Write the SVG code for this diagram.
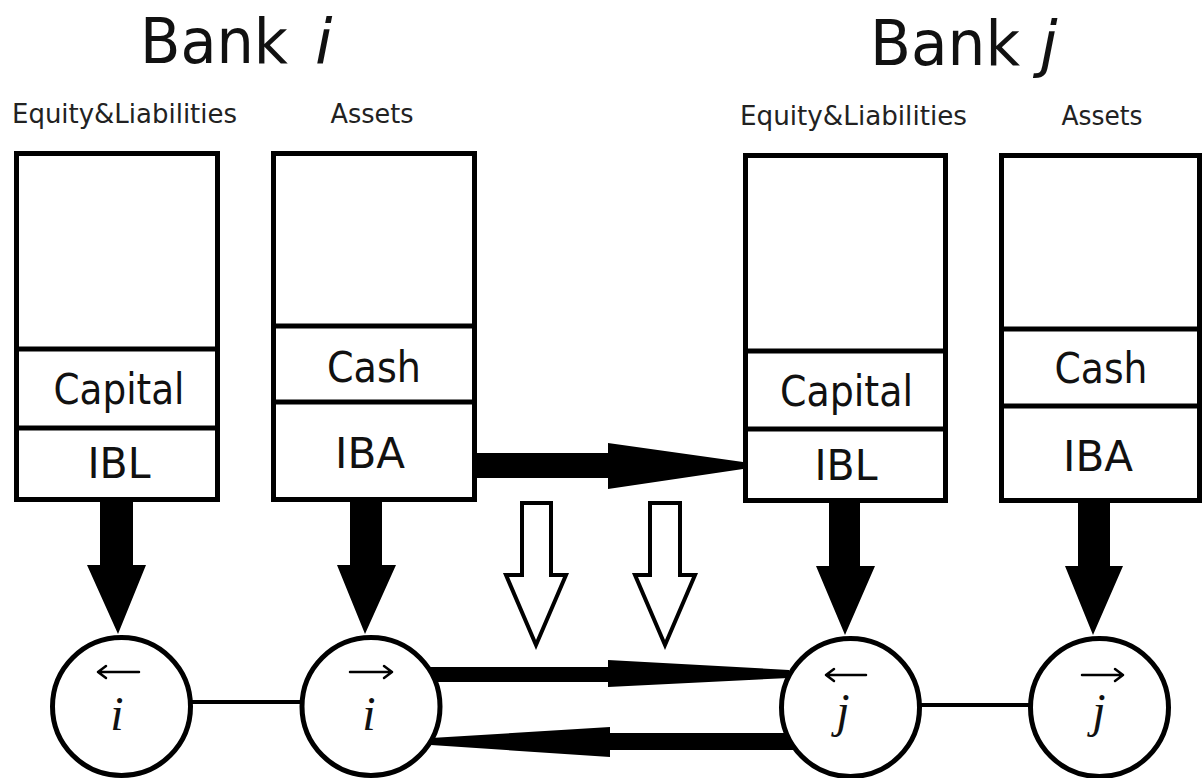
<svg xmlns="http://www.w3.org/2000/svg" width="1204" height="778" viewBox="0 0 1204 778">
<style>
  .box{fill:#fff;stroke:#000;stroke-width:5}
  .div{stroke:#000;stroke-width:5}
  .title{font-family:"DejaVu Sans",sans-serif;font-size:63px;fill:#111}
  .head{font-family:"DejaVu Sans",sans-serif;font-size:26px;fill:#222;text-anchor:middle}
  .cell{font-family:"DejaVu Sans",sans-serif;font-size:42px;fill:#111;text-anchor:middle}
  .node{fill:#fff;stroke:#000;stroke-width:5}
  .var{font-family:"Liberation Serif",serif;font-style:italic;font-size:48px;fill:#111;text-anchor:middle}
  .acc{fill:none;stroke:#000;stroke-width:2.5;stroke-linecap:round;stroke-linejoin:round}
  .solid{fill:#000;stroke:none}
  .open{fill:#fff;stroke:#000;stroke-width:4;stroke-linejoin:miter}
  .link{stroke:#000;stroke-width:4}
</style>
<rect width="1204" height="778" fill="#fff"/>

<g id="titles">
  <text class="title" x="140" y="63" textLength="148" lengthAdjust="spacingAndGlyphs">Bank</text>
  <text class="title" x="315" y="63" font-style="italic">i</text>
  <text class="title" x="870" y="65" textLength="150" lengthAdjust="spacingAndGlyphs">Bank</text>
  <text class="title" x="1040" y="65" font-style="italic">j</text>
</g>

<g id="headings">
  <text class="head" x="124.5" y="123" textLength="225" lengthAdjust="spacingAndGlyphs">Equity&amp;Liabilities</text>
  <text class="head" x="372" y="123" textLength="83" lengthAdjust="spacingAndGlyphs">Assets</text>
  <text class="head" x="853.5" y="125" textLength="227" lengthAdjust="spacingAndGlyphs">Equity&amp;Liabilities</text>
  <text class="head" x="1102" y="125" textLength="81" lengthAdjust="spacingAndGlyphs">Assets</text>
</g>

<g id="connectors">
  <!-- balance sheet to nodes -->
  <polygon class="solid" points="100,500 133,500 133,565 146,565 118,634 87,565 100,565"/>
  <polygon class="solid" points="350,500 382,500 382,565 396,565 365,634 337,565 350,565"/>
  <polygon class="solid" points="829,501 860,501 860,566 875,566 845,635 816,566 829,566"/>
  <polygon class="solid" points="1078,501 1110,501 1110,566 1123,566 1093,635 1065,566 1078,566"/>
  <!-- IBA of i to IBL of j -->
  <polygon class="solid" points="475,453 608,453 608,443 743,462 743,469 608,489 608,478 475,478"/>
  <!-- open arrows -->
  <path class="open" d="M522,503 H551 V575 H566 L536,645 L506,575 H522 Z"/>
  <path class="open" d="M650,503 H680 V575 H695 L665,645 L635,575 H650 Z"/>
  <!-- node links -->
  <line class="link" x1="190" y1="702" x2="302" y2="702"/>
  <line class="link" x1="919" y1="705" x2="1031" y2="705"/>
  <polygon class="solid" points="425,667 608,667 608,660 789,670 789,678 608,687 608,682 425,682"/>
  <polygon class="solid" points="795,733 610,733 610,727 431,738 431,745 610,757 610,750 795,750"/>
</g>

<g id="box-i-liab">
  <rect class="box" x="16.5" y="153.5" width="201" height="346"/>
  <line class="div" x1="14" y1="349" x2="220" y2="349"/>
  <line class="div" x1="14" y1="428" x2="220" y2="428"/>
  <text class="cell" x="119" y="404" textLength="131" lengthAdjust="spacingAndGlyphs">Capital</text>
  <text class="cell" x="119" y="478" textLength="63" lengthAdjust="spacingAndGlyphs">IBL</text>
</g>

<g id="box-i-assets">
  <rect class="box" x="273.5" y="153.5" width="201" height="346"/>
  <line class="div" x1="271" y1="326" x2="477" y2="326"/>
  <line class="div" x1="271" y1="402" x2="477" y2="402"/>
  <text class="cell" x="374" y="382" textLength="94" lengthAdjust="spacingAndGlyphs">Cash</text>
  <text class="cell" x="370" y="468" textLength="70" lengthAdjust="spacingAndGlyphs">IBA</text>
</g>

<g id="box-j-liab">
  <rect class="box" x="745.5" y="155.5" width="200" height="345"/>
  <line class="div" x1="743" y1="351" x2="948" y2="351"/>
  <line class="div" x1="743" y1="429" x2="948" y2="429"/>
  <text class="cell" x="846.5" y="406" textLength="133" lengthAdjust="spacingAndGlyphs">Capital</text>
  <text class="cell" x="846" y="480" textLength="63" lengthAdjust="spacingAndGlyphs">IBL</text>
</g>

<g id="box-j-assets">
  <rect class="box" x="1001.5" y="155.5" width="198" height="345"/>
  <line class="div" x1="999" y1="329" x2="1202" y2="329"/>
  <line class="div" x1="999" y1="406" x2="1202" y2="406"/>
  <text class="cell" x="1101" y="383" textLength="93" lengthAdjust="spacingAndGlyphs">Cash</text>
  <text class="cell" x="1098" y="471" textLength="70" lengthAdjust="spacingAndGlyphs">IBA</text>
</g>

<g id="node-i-in">
  <circle class="node" cx="121.5" cy="706.5" r="69"/>
  <path class="acc" d="M98,672 H139 M98,672 L106,666 M98,672 L106,678"/>
  <text class="var" x="117" y="730">i</text>
</g>

<g id="node-i-out">
  <circle class="node" cx="371" cy="706.5" r="69"/>
  <path class="acc" d="M350,672 H392 M392,672 L384,666 M392,672 L384,678"/>
  <text class="var" x="369" y="730">i</text>
</g>

<g id="node-j-in">
  <circle class="node" cx="850.5" cy="707.5" r="69"/>
  <path class="acc" d="M826,675 H866 M826,675 L834,669 M826,675 L834,681"/>
  <text class="var" x="843" y="727">j</text>
</g>

<g id="node-j-out">
  <circle class="node" cx="1099.5" cy="707.5" r="69"/>
  <path class="acc" d="M1082,675 H1123 M1123,675 L1115,669 M1123,675 L1115,681"/>
  <text class="var" x="1099" y="727">j</text>
</g>
</svg>
